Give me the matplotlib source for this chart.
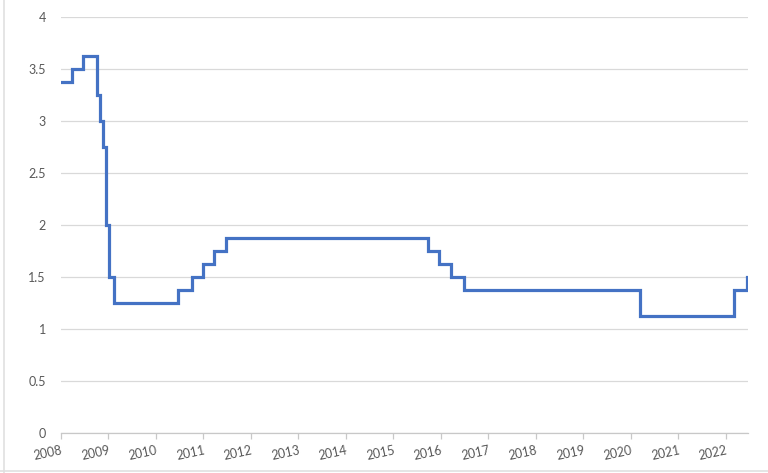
import matplotlib
matplotlib.use('Agg')
import matplotlib.pyplot as plt
from matplotlib.lines import Line2D

# Step dates (decimal years) and rate level starting at each date
dates = [2008.0, 2008.225, 2008.47, 2008.75, 2008.765, 2008.82, 2008.877, 2008.946, 2009.016, 2009.11,
         2010.46, 2010.76, 2010.98, 2011.22, 2011.48, 2015.72, 2015.96, 2016.22, 2016.48,
         2020.2, 2022.17, 2022.44, 2022.45]
rates = [3.375, 3.5, 3.625, 3.5, 3.25, 3.0, 2.75, 2.0, 1.5, 1.25,
         1.375, 1.5, 1.625, 1.75, 1.875, 1.75, 1.625, 1.5, 1.375,
         1.125, 1.375, 1.5, 1.5]
years = list(range(2008, 2023))
yticks = [0, 0.5, 1, 1.5, 2, 2.5, 3, 3.5, 4]
ylabels = ['0', '0.5', '1', '1.5', '2', '2.5', '3', '3.5', '4']

plt.rcParams['font.family'] = ['Lato', 'DejaVu Sans']
grey = '#595959'

fig = plt.figure(figsize=(7.68, 4.73), dpi=100)
ax = fig.add_axes([61/768, 1 - 432.7/473, (748.3 - 61)/768, (432.7 - 16.7)/473])

ax.plot(dates, rates, drawstyle='steps-post', color='#4472C4', lw=2.3, solid_joinstyle='miter')

ax.set_xlim(2008, 2022.47)
ax.set_ylim(0, 4)
ax.set_yticks(yticks)
ax.set_yticklabels(ylabels)
ax.set_xticks(years)
ax.set_xticklabels([str(y) for y in years], rotation=12, ha='right', va='top', rotation_mode='anchor')

ax.grid(axis='y', color='#d9d9d9', lw=0.9)
ax.set_axisbelow(True)
for s in ['top', 'right', 'left']:
    ax.spines[s].set_visible(False)
ax.spines['bottom'].set_color('#c8c8c8')
ax.spines['bottom'].set_linewidth(0.9)

ax.tick_params(axis='y', length=0, pad=11, labelsize=9, labelcolor=grey)
ax.tick_params(axis='x', length=4, width=0.9, color='#c8c8c8', pad=4, labelsize=9, labelcolor=grey)

# light frame from the screenshot
fig.add_artist(Line2D([3.5/768, 3.5/768], [0, 1], color='#e0e0e0', lw=1.2, transform=fig.transFigure))
fig.add_artist(Line2D([0, 1], [1 - 471/473, 1 - 471/473], color='#e0e0e0', lw=1.2, transform=fig.transFigure))

fig.savefig('out.png', dpi=100)
